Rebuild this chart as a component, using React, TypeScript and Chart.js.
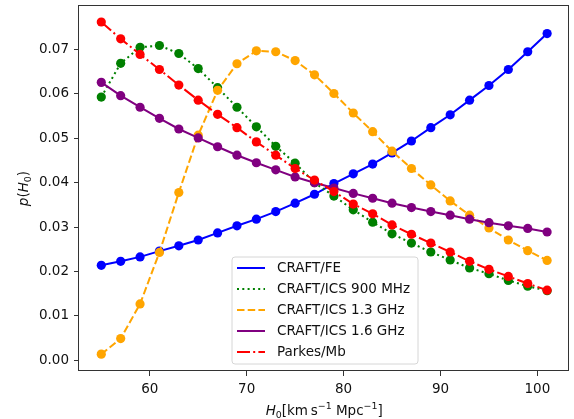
import React, { useEffect, useRef } from "react";
import { Chart, registerables } from "chart.js";

Chart.register(...registerables);

const H0 = [55, 57, 59, 61, 63, 65, 67, 69, 71, 73, 75, 77, 79, 81, 83, 85, 87, 89, 91, 93, 95, 97, 99, 101];
const craftFE = [0.0214, 0.0223, 0.0233, 0.0246, 0.0258, 0.0271, 0.0287, 0.0303, 0.0318, 0.0335, 0.0354, 0.0374, 0.0398, 0.0420, 0.0442, 0.0467, 0.0494, 0.0524, 0.0553, 0.0586, 0.0619, 0.0655, 0.0695, 0.0736];
const craftICS900 = [0.0593, 0.0669, 0.0705, 0.0709, 0.0691, 0.0657, 0.0614, 0.0570, 0.0526, 0.0482, 0.0444, 0.0400, 0.0370, 0.0339, 0.0311, 0.0285, 0.0264, 0.0244, 0.0226, 0.0208, 0.0195, 0.0180, 0.0167, 0.0157];
const craftICS13 = [0.0014, 0.0049, 0.0127, 0.0243, 0.0378, 0.0507, 0.0608, 0.0668, 0.0697, 0.0695, 0.0675, 0.0643, 0.0601, 0.0557, 0.0515, 0.0471, 0.0432, 0.0395, 0.0359, 0.0327, 0.0298, 0.0271, 0.0247, 0.0225];
const craftICS16 = [0.0626, 0.0596, 0.0570, 0.0545, 0.0521, 0.0501, 0.0481, 0.0462, 0.0445, 0.0429, 0.0413, 0.0400, 0.0388, 0.0376, 0.0365, 0.0354, 0.0344, 0.0335, 0.0327, 0.0318, 0.0310, 0.0303, 0.0297, 0.0289];
const parkesMb = [0.0762, 0.0724, 0.0689, 0.0655, 0.0620, 0.0586, 0.0554, 0.0524, 0.0492, 0.0462, 0.0432, 0.0406, 0.0380, 0.0352, 0.0330, 0.0305, 0.0284, 0.0264, 0.0244, 0.0223, 0.0205, 0.0189, 0.0173, 0.0158];

const seriesNames = ["CRAFT/FE", "CRAFT/ICS 900 MHz", "CRAFT/ICS 1.3 GHz", "CRAFT/ICS 1.6 GHz", "Parkes/Mb"];
const seriesValues = [craftFE, craftICS900, craftICS13, craftICS16, parkesMb];
const seriesColors = ["#0000ff", "#008000", "#ffa500", "#800080", "#ff0000"];
const seriesDashes = [[], [2, 3.3], [7.5, 3.2], [], [13, 3.2, 2, 3.2]];

const xTicks = [60, 70, 80, 90, 100];
const yTicks = [0.0, 0.01, 0.02, 0.03, 0.04, 0.05, 0.06, 0.07];

const FONT = "'DejaVu Sans', sans-serif";
const FS = 13.5;

type Piece = { t: string; it?: boolean; sub?: boolean; sup?: boolean };

function drawRich(ctx: CanvasRenderingContext2D, pieces: Piece[], cx: number, cy: number) {
  const fontFor = (p: Piece) => {
    const size = p.sub || p.sup ? FS * 0.7 : FS;
    return `${p.it ? "italic " : ""}${size}px ${FONT}`;
  };
  let total = 0;
  const widths = pieces.map((p) => {
    ctx.font = fontFor(p);
    const w = ctx.measureText(p.t).width;
    total += w;
    return w;
  });
  let x = cx - total / 2;
  const base = cy + FS * 0.36;
  ctx.textAlign = "left";
  ctx.textBaseline = "alphabetic";
  pieces.forEach((p, i) => {
    ctx.font = fontFor(p);
    let y = base;
    if (p.sub) y += FS * 0.2;
    if (p.sup) y -= FS * 0.42;
    ctx.fillText(p.t, x, y);
    x += widths[i];
  });
}

const decorPlugin = {
  id: "decor",
  afterDraw(chart: any) {
    const ctx: CanvasRenderingContext2D = chart.ctx;
    const a = chart.chartArea;
    ctx.save();
    // frame
    ctx.strokeStyle = "#333";
    ctx.lineWidth = 1;
    ctx.setLineDash([]);
    ctx.strokeRect(Math.round(a.left) - 0.5, Math.round(a.top) - 0.5, Math.round(a.right) - Math.round(a.left), Math.round(a.bottom) - Math.round(a.top));

    // legend
    const lx = 232, ly = 257, lw = 186, lh = 107, r = 3;
    ctx.beginPath();
    ctx.moveTo(lx + r, ly);
    ctx.lineTo(lx + lw - r, ly);
    ctx.arcTo(lx + lw, ly, lx + lw, ly + r, r);
    ctx.lineTo(lx + lw, ly + lh - r);
    ctx.arcTo(lx + lw, ly + lh, lx + lw - r, ly + lh, r);
    ctx.lineTo(lx + r, ly + lh);
    ctx.arcTo(lx, ly + lh, lx, ly + lh - r, r);
    ctx.lineTo(lx, ly + r);
    ctx.arcTo(lx, ly, lx + r, ly, r);
    ctx.closePath();
    ctx.fillStyle = "rgba(255,255,255,0.8)";
    ctx.fill();
    ctx.strokeStyle = "#d6d6d6";
    ctx.lineWidth = 1;
    ctx.stroke();
    const rowY = [268, 289, 310, 331, 352];
    seriesNames.forEach((name, i) => {
      const y = rowY[i];
      ctx.beginPath();
      ctx.setLineDash(seriesDashes[i]);
      ctx.strokeStyle = seriesColors[i];
      ctx.lineWidth = 2.03;
      ctx.moveTo(237, y);
      ctx.lineTo(265, y);
      ctx.stroke();
      ctx.setLineDash([]);
      ctx.fillStyle = "#111";
      ctx.font = `${FS}px ${FONT}`;
      ctx.textAlign = "left";
      ctx.textBaseline = "middle";
      ctx.fillText(name, 277, y + 0.5);
    });

    // axis titles
    ctx.fillStyle = "#111";
    drawRich(ctx, [
      { t: "H", it: true },
      { t: "0", sub: true },
      { t: "[km\u2009s" },
      { t: "\u22121", sup: true },
      { t: " Mpc" },
      { t: "\u22121", sup: true },
      { t: "]" },
    ], (a.left + a.right) / 2, 410);

    ctx.translate(23, (a.top + a.bottom) / 2);
    ctx.rotate(-Math.PI / 2);
    drawRich(ctx, [
      { t: "p", it: true },
      { t: "(" },
      { t: "H", it: true },
      { t: "0", sub: true },
      { t: ")" },
    ], 0, 0);
    ctx.restore();
  },
};

export default function App() {
  const ref = useRef<HTMLCanvasElement | null>(null);
  useEffect(() => {
    if (!ref.current) return;
    const datasets = seriesNames.map((name, i) => ({
      label: name,
      data: H0.map((x, j) => ({ x, y: seriesValues[i][j] })),
      borderColor: seriesColors[i],
      backgroundColor: seriesColors[i],
      borderWidth: 2.03,
      borderDash: seriesDashes[i],
      pointRadius: 4.6,
      pointBorderWidth: 0,
      pointBackgroundColor: seriesColors[i],
      pointBorderColor: seriesColors[i],
      tension: 0,
      fill: false,
      order: seriesNames.length - i,
    }));
    const chart = new Chart(ref.current, {
      type: "line",
      data: { datasets },
      options: {
        animation: false,
        responsive: false,
        devicePixelRatio: 1,
        layout: { padding: { left: 0, top: 6, right: 3, bottom: 0 } },
        plugins: { legend: { display: false }, tooltip: { enabled: false } },
        scales: {
          x: {
            type: "linear",
            min: 52.7,
            max: 103.3,
            afterBuildTicks: (s: any) => { s.ticks = xTicks.map((v) => ({ value: v })); },
            afterFit: (s: any) => { s.height = 48; s.paddingLeft = 0; s.paddingRight = 0; },
            grid: { display: true, drawOnChartArea: false, drawTicks: true, tickLength: 5, color: "#333", lineWidth: 1 },
            border: { display: false },
            ticks: { padding: 5, color: "#111", font: { family: FONT, size: FS }, callback: (v: any) => String(v), maxRotation: 0 },
          },
          y: {
            type: "linear",
            min: -0.0024,
            max: 0.0798,
            afterBuildTicks: (s: any) => { s.ticks = yTicks.map((v) => ({ value: v })); },
            afterFit: (s: any) => { s.width = 79; s.paddingTop = 0; s.paddingBottom = 0; },
            grid: { display: true, drawOnChartArea: false, drawTicks: true, tickLength: 5, color: "#333", lineWidth: 1 },
            border: { display: false },
            ticks: { padding: 5, color: "#111", font: { family: FONT, size: FS }, callback: (v: any) => Number(v).toFixed(2) },
          },
        },
      },
      plugins: [decorPlugin],
    } as any);
    return () => chart.destroy();
  }, []);
  return (
    <div style={{ position: "fixed", left: 0, top: 0, width: 574, height: 419, background: "#fff" }}>
      <canvas ref={ref} width={574} height={419} style={{ display: "block", width: 574, height: 419 }} />
    </div>
  );
}
